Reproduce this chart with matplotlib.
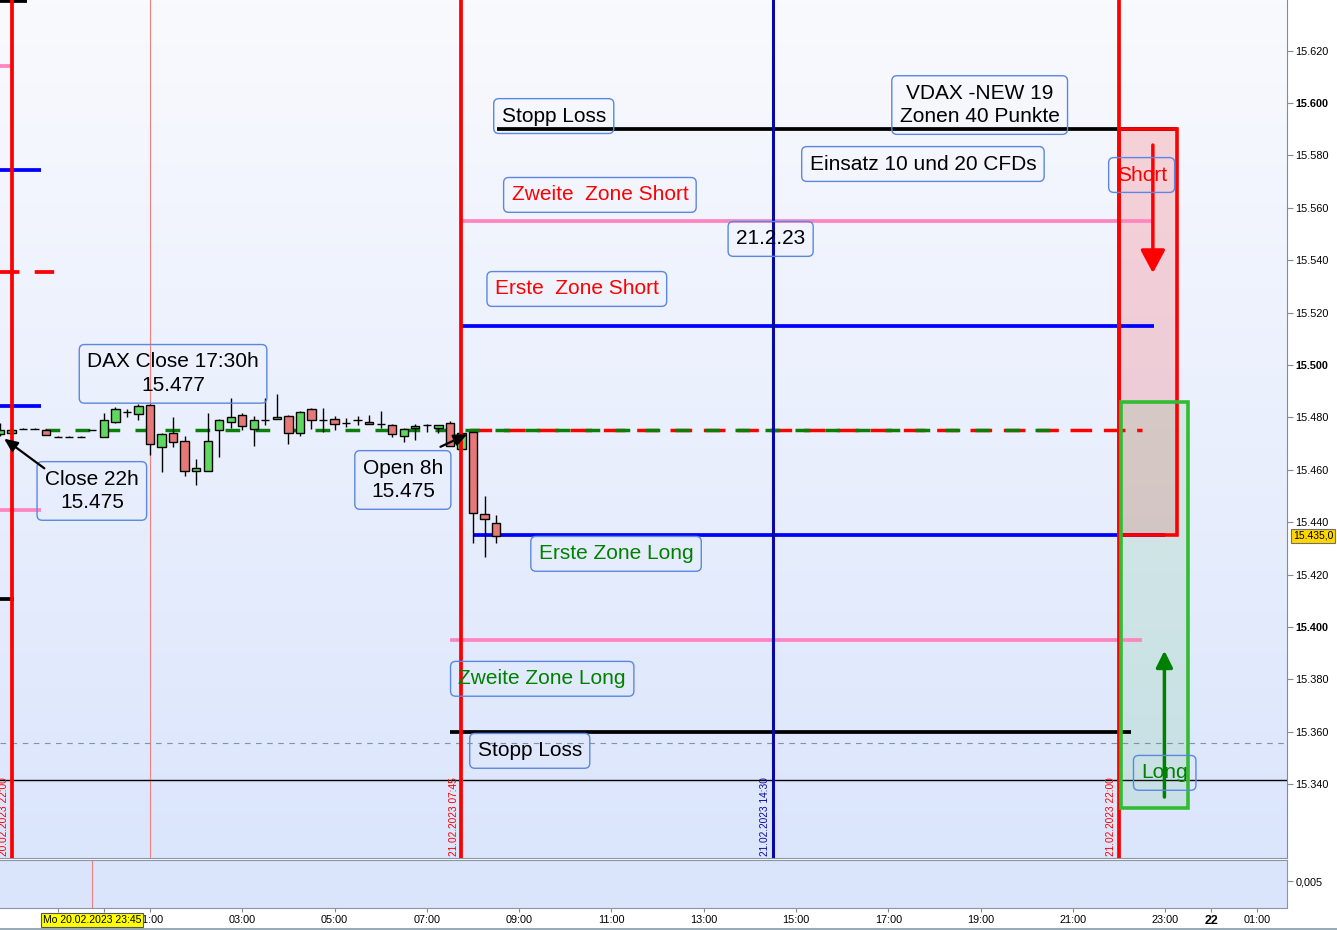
import numpy as np
import pandas as pd
import matplotlib
matplotlib.use("Agg")
import matplotlib.pyplot as plt
import matplotlib.transforms as mtransforms
from matplotlib.colors import LinearSegmentedColormap
from matplotlib.patches import Rectangle, FancyArrowPatch

plt.rcParams['font.family'] = ['Liberation Sans', 'DejaVu Sans']
plt.rcParams['lines.scale_dashes'] = False

t0 = pd.Timestamp("2023-02-21 00:00")

def hrs(ts):
    # hours relative to 21.02.2023 00:00
    return (pd.to_datetime(ts) - t0) / pd.Timedelta(hours=1)

# DAX 15 min candles
candle_time = ["2023-02-20 21:45", "2023-02-20 22:00", "2023-02-20 22:15", "2023-02-20 22:30",
               "2023-02-20 22:45", "2023-02-20 23:00", "2023-02-20 23:15", "2023-02-20 23:30",
               "2023-02-20 23:45", "2023-02-21 00:00", "2023-02-21 00:15", "2023-02-21 00:30",
               "2023-02-21 00:45", "2023-02-21 01:00", "2023-02-21 01:15", "2023-02-21 01:30",
               "2023-02-21 01:45", "2023-02-21 02:00", "2023-02-21 02:15", "2023-02-21 02:30",
               "2023-02-21 02:45", "2023-02-21 03:00", "2023-02-21 03:15", "2023-02-21 03:30",
               "2023-02-21 03:45", "2023-02-21 04:00", "2023-02-21 04:15", "2023-02-21 04:30",
               "2023-02-21 04:45", "2023-02-21 05:00", "2023-02-21 05:15", "2023-02-21 05:30",
               "2023-02-21 05:45", "2023-02-21 06:00", "2023-02-21 06:15", "2023-02-21 06:30",
               "2023-02-21 06:45", "2023-02-21 07:00", "2023-02-21 07:15", "2023-02-21 07:30",
               "2023-02-21 07:45", "2023-02-21 08:00", "2023-02-21 08:15", "2023-02-21 08:30"]
opens = [15473.5, 15474.0, 15475.5, 15475.5, 15475.2, 15472.6, 15472.6, 15472.6,
         15475.0, 15472.4, 15478.1, 15482.0, 15481.2, 15484.7, 15468.8, 15474.0,
         15471.0, 15459.5, 15459.7, 15475.0, 15478.4, 15480.9, 15475.5, 15478.8,
         15479.2, 15480.5, 15474.0, 15483.2, 15478.8, 15479.4, 15477.8, 15478.8,
         15478.4, 15477.4, 15477.0, 15472.7, 15475.8, 15477.0, 15475.8, 15477.8,
         15467.8, 15474.5, 15443.0, 15439.6]
highs = [15478.0, 15475.5, 15476.0, 15476.0, 15475.5, 15473.0, 15473.0, 15473.0,
         15475.0, 15481.6, 15484.1, 15483.1, 15485.0, 15485.0, 15474.0, 15480.0,
         15472.9, 15464.0, 15481.6, 15479.5, 15487.3, 15481.8, 15480.5, 15487.3,
         15488.9, 15481.0, 15482.5, 15483.5, 15483.5, 15480.5, 15479.7, 15480.5,
         15481.0, 15482.4, 15477.3, 15476.0, 15477.5, 15477.6, 15477.0, 15478.5,
         15474.5, 15474.5, 15450.0, 15442.7]
lows = [15473.0, 15474.0, 15475.5, 15475.5, 15473.2, 15472.6, 15472.6, 15472.6,
        15475.0, 15472.4, 15478.0, 15480.3, 15479.0, 15465.6, 15459.0, 15468.6,
        15457.6, 15454.2, 15459.7, 15465.0, 15476.0, 15475.0, 15468.9, 15477.0,
        15479.2, 15469.8, 15472.9, 15475.5, 15474.5, 15475.0, 15476.3, 15477.0,
        15477.4, 15476.0, 15472.6, 15470.7, 15471.4, 15474.5, 15474.2, 15468.9,
        15467.8, 15432.2, 15426.8, 15432.2]
closes = [15475.0, 15475.2, 15475.5, 15475.5, 15473.2, 15472.6, 15472.6, 15472.6,
          15475.0, 15479.0, 15483.1, 15482.0, 15484.4, 15469.9, 15473.6, 15470.5,
          15459.7, 15460.6, 15471.0, 15478.8, 15480.0, 15476.7, 15478.8, 15478.8,
          15480.0, 15474.2, 15482.2, 15478.8, 15478.8, 15477.4, 15477.8, 15478.8,
          15477.4, 15477.4, 15473.7, 15475.5, 15476.7, 15477.0, 15477.0, 15468.9,
          15474.2, 15443.4, 15441.1, 15434.7]

# zone lines for 21.02.
zone_price = [15590, 15555, 15515, 15435, 15395, 15360]
zone_start = ["2023-02-21 08:31", "2023-02-21 07:45", "2023-02-21 07:45",
              "2023-02-21 08:00", "2023-02-21 07:30", "2023-02-21 07:30"]
zone_end = ["2023-02-21 23:15", "2023-02-21 22:45", "2023-02-21 22:45",
            "2023-02-21 23:00", "2023-02-21 22:30", "2023-02-21 22:15"]
zone_color = ["black", "#ff85c0", "#0000ff", "#0000ff", "#ff85c0", "black"]

# zones of the previous day (only the stubs at the left edge are visible)
old_price = [15639, 15614, 15574.5, 15484.5, 15444.5, 15410.5]
old_end = ["2023-02-20 22:20", "2023-02-20 22:03", "2023-02-20 22:38",
           "2023-02-20 22:38", "2023-02-20 22:38", "2023-02-20 22:03"]
old_color = ["black", "#ff85c0", "#0000ff", "#0000ff", "#ff85c0", "black"]
old_mid = 15535.5

close_level = 15475   # Close 22h
open_level = 15475    # Open 8h

vline_time = ["2023-02-20 22:00", "2023-02-21 07:45", "2023-02-21 14:30", "2023-02-21 22:00"]
vline_label = ["20.02.2023 22:00", "21.02.2023 07:45", "21.02.2023 14:30", "21.02.2023 22:00"]
vline_color = ["#ff0000", "#ff0000", "#0a0aa0", "#ff0000"]

short_box = ("2023-02-21 22:00", "2023-02-21 23:15", 15435, 15590)
long_box = ("2023-02-21 22:02", "2023-02-21 23:30", 15331, 15486)

last_price = 15435.0

xmin, xmax = -2.25, 25.64
ymin, ymax = 15311.8, 15639.3

fig = plt.figure(figsize=(13.37, 9.30), dpi=100)
fig.patch.set_facecolor("white")
ax = fig.add_axes([0, 72 / 930, 1287 / 1337, 858 / 930])
ax2 = fig.add_axes([0, 22 / 930, 1287 / 1337, 48 / 930])

# background gradient
cmap = LinearSegmentedColormap.from_list("bg", ["#dbe5fc", "#f9fafe"])
grad = np.linspace(0, 1, 256).reshape(-1, 1)
ax.imshow(grad, extent=[xmin, xmax, ymin, ymax], origin="lower", aspect="auto",
          cmap=cmap, zorder=0)

# candles
x = hrs(candle_time).to_numpy()
o = np.array(opens); h = np.array(highs); l = np.array(lows); c = np.array(closes)
ax.vlines(x, l, h, color="black", lw=1, zorder=4)
cols = np.where(c >= o, "#5fd85f", "#e67878")
ax.bar(x, c - o, bottom=o, width=0.18, color=cols, edgecolor="black", lw=1, zorder=5)

# zone lines
for p, s, e, col in zip(zone_price, zone_start, zone_end, zone_color):
    ax.plot([hrs(s), hrs(e)], [p, p], color=col, lw=2.7, solid_capstyle="butt", zorder=3)
for p, e, col in zip(old_price, old_end, old_color):
    ax.plot([xmin, hrs(e)], [p, p], color=col, lw=2.7, solid_capstyle="butt", zorder=3)
ax.plot([xmin, hrs("2023-02-20 23:05")], [old_mid, old_mid], color="#ff0000", lw=2.7,
        dashes=(14, 11), zorder=3)

# close / open lines
ax.plot([hrs("2023-02-20 22:44"), hrs("2023-02-21 20:30")], [close_level, close_level],
        color="#0a7d0a", lw=2.5, dashes=(10.6, 11), zorder=3.5)
ax.plot([hrs("2023-02-21 07:56"), hrs("2023-02-21 22:30")], [open_level, open_level],
        color="#ff0000", lw=2.5, dashes=(15.6, 8.4), zorder=3.4)

# vertical lines
blend = mtransforms.blended_transform_factory(ax.transData, ax.transAxes)
for t, lab, col in zip(vline_time, vline_label, vline_color):
    xv = hrs(t)
    ax.axvline(xv, color=col, lw=2.7 if col == "#ff0000" else 2.2, zorder=6)
    ax.text(xv - 0.17, 0.002, lab, transform=blend, rotation=90, ha="center", va="bottom",
            fontsize=7.3, color=col, zorder=7)
ax.axvline(hrs("2023-02-21 01:00"), color="#f08080", lw=0.8, zorder=1)

# cursor lines
ax.axhline(15341.6, color="black", lw=1, zorder=2)
ax.axhline(15355.7, color="#8090b0", lw=0.8, dashes=(4, 4), zorder=2)

# short / long boxes
for (s, e, lo, hi), fc, ec, al in [(short_box, "#ff0000", "#ff0000", 0.15),
                                   (long_box, "#3cb450", "#33bb33", 0.13)]:
    ax.add_patch(Rectangle((hrs(s), lo), hrs(e) - hrs(s), hi - lo, facecolor=fc,
                           alpha=al, edgecolor="none", zorder=2))
    ax.add_patch(Rectangle((hrs(s), lo), hrs(e) - hrs(s), hi - lo, facecolor="none",
                           edgecolor=ec, lw=2.6, zorder=6.5))

ax.add_patch(FancyArrowPatch((hrs("2023-02-21 22:44"), 15585), (hrs("2023-02-21 22:44"), 15534),
                             arrowstyle="-|>,head_length=14,head_width=7.5", color="#ff0000",
                             lw=2.5, mutation_scale=1, zorder=7))
ax.add_patch(FancyArrowPatch((hrs("2023-02-21 22:59"), 15334), (hrs("2023-02-21 22:59"), 15392),
                             arrowstyle="-|>,head_length=10,head_width=5", color="#008000",
                             lw=2.5, mutation_scale=1, zorder=7))

# text boxes
box = dict(boxstyle="round,pad=0.38,rounding_size=0.25", facecolor="none", edgecolor="#5b87e0", lw=1)
notes = [
    ("Stopp Loss", 9.75, 15595, "black"),
    ("VDAX -NEW 19\nZonen 40 Punkte", 18.98, 15599.2, "black"),
    ("Einsatz 10 und 20 CFDs", 17.75, 15576.7, "black"),
    ("Zweite  Zone Short", 10.75, 15564.9, "#ff0000"),
    ("21.2.23", 14.45, 15548.1, "black"),
    ("Erste  Zone Short", 10.25, 15529.0, "#ff0000"),
    ("DAX Close 17:30h\n15.477", 1.5, 15496.6, "black"),
    ("Close 22h\n15.475", -0.26, 15451.9, "black"),
    ("Open 8h\n15.475", 6.48, 15456.1, "black"),
    ("Erste Zone Long", 11.1, 15427.9, "#008000"),
    ("Zweite Zone Long", 9.5, 15380.2, "#008000"),
    ("Stopp Loss", 9.23, 15352.7, "black"),
    ("Short", 22.49, 15572.5, "#ff0000"),
    ("Long", 22.99, 15344.3, "#008000"),
]
for txt, tx, ty, col in notes:
    ax.text(tx, ty, txt, ha="center", va="center", fontsize=15, color=col,
            linespacing=1.32, bbox=box, zorder=8)

ax.annotate("", xy=(-2.21, 15472.5), xytext=(-1.24, 15459.9),
            arrowprops=dict(arrowstyle="-|>,head_length=0.8,head_width=0.35", color="black", lw=1.6),
            zorder=8)
ax.annotate("", xy=(7.93, 15474.0), xytext=(7.24, 15468.3),
            arrowprops=dict(arrowstyle="-|>,head_length=0.8,head_width=0.35", color="black", lw=1.6),
            zorder=8)

ax.set_xlim(xmin, xmax)
ax.set_ylim(ymin, ymax)
ax.set_xticks([])
ax.yaxis.tick_right()
yt = np.arange(15340, 15621, 20)
ax.set_yticks(yt)
ax.set_yticklabels([f"{v:,.0f}".replace(",", ".") for v in yt])
for v, lab in zip(yt, ax.get_yticklabels()):
    if v % 100 == 0:
        lab.set_fontweight("bold")
        lab.set_fontsize(8.5)
ax.tick_params(axis="y", direction="out", length=4, pad=2, labelsize=7.8, color="#7f8c99")
for side in ["left", "top"]:
    ax.spines[side].set_visible(False)
ax.spines["right"].set_color("#7f8c99")
ax.spines["bottom"].set_color("#8a96a3")

# lower panel
ax2.set_facecolor("#dae4fb")
ax2.set_xlim(xmin, xmax)
ax2.set_ylim(0, 0.00889)
ax2.axvline(-0.25, color="#f08080", lw=0.8)
ax2.yaxis.tick_right()
ax2.set_yticks([0.005])
ax2.set_yticklabels(["0,005"])
ax2.tick_params(axis="y", direction="out", length=4, pad=2, labelsize=7.8, color="#7f8c99")
xt_time = ["2023-02-20 23:00", "2023-02-21 00:00", "2023-02-21 01:00", "2023-02-21 03:00",
           "2023-02-21 05:00", "2023-02-21 07:00", "2023-02-21 09:00", "2023-02-21 11:00",
           "2023-02-21 13:00", "2023-02-21 15:00", "2023-02-21 17:00", "2023-02-21 19:00",
           "2023-02-21 21:00", "2023-02-21 23:00", "2023-02-22 00:00", "2023-02-22 01:00"]
# the first two labels sit under the cursor tag
xt_label = ["", "", "01:00", "03:00", "05:00", "07:00", "09:00", "11:00", "13:00",
            "15:00", "17:00", "19:00", "21:00", "23:00", "22", "01:00"]
ax2.set_xticks(hrs(xt_time))
ax2.set_xticklabels(xt_label)
ax2.tick_params(axis="x", direction="out", length=3, pad=2, labelsize=7.8, color="#7f8c99")
for lab in ax2.get_xticklabels():
    if lab.get_text() == "22":
        lab.set_fontweight("bold")
        lab.set_fontsize(9)
ax2.spines["left"].set_visible(False)
for side in ["right", "top", "bottom"]:
    ax2.spines[side].set_color("#8a96a3")

# price tag and cursor label
tag = f"{last_price:,.1f}".replace(",", "X").replace(".", ",").replace("X", ".")
fig.text(1293 / 1337, (930 - 536) / 930, tag, fontsize=7.5, ha="left", va="center",
         bbox=dict(boxstyle="square,pad=0.15", facecolor="#ffd700", edgecolor="#707070", lw=0.8))
fig.text(92 / 1337, (930 - 920) / 930, "Mo 20.02.2023 23:45", fontsize=7.5, ha="center", va="center",
         bbox=dict(boxstyle="square,pad=0.2", facecolor="#ffff00", edgecolor="#555555", lw=0.8))
fig.patches.append(Rectangle((0, 0), 1, 2 / 930, transform=fig.transFigure,
                             facecolor="#9aabb8", edgecolor="none"))

fig.savefig("out.png", dpi=100)
